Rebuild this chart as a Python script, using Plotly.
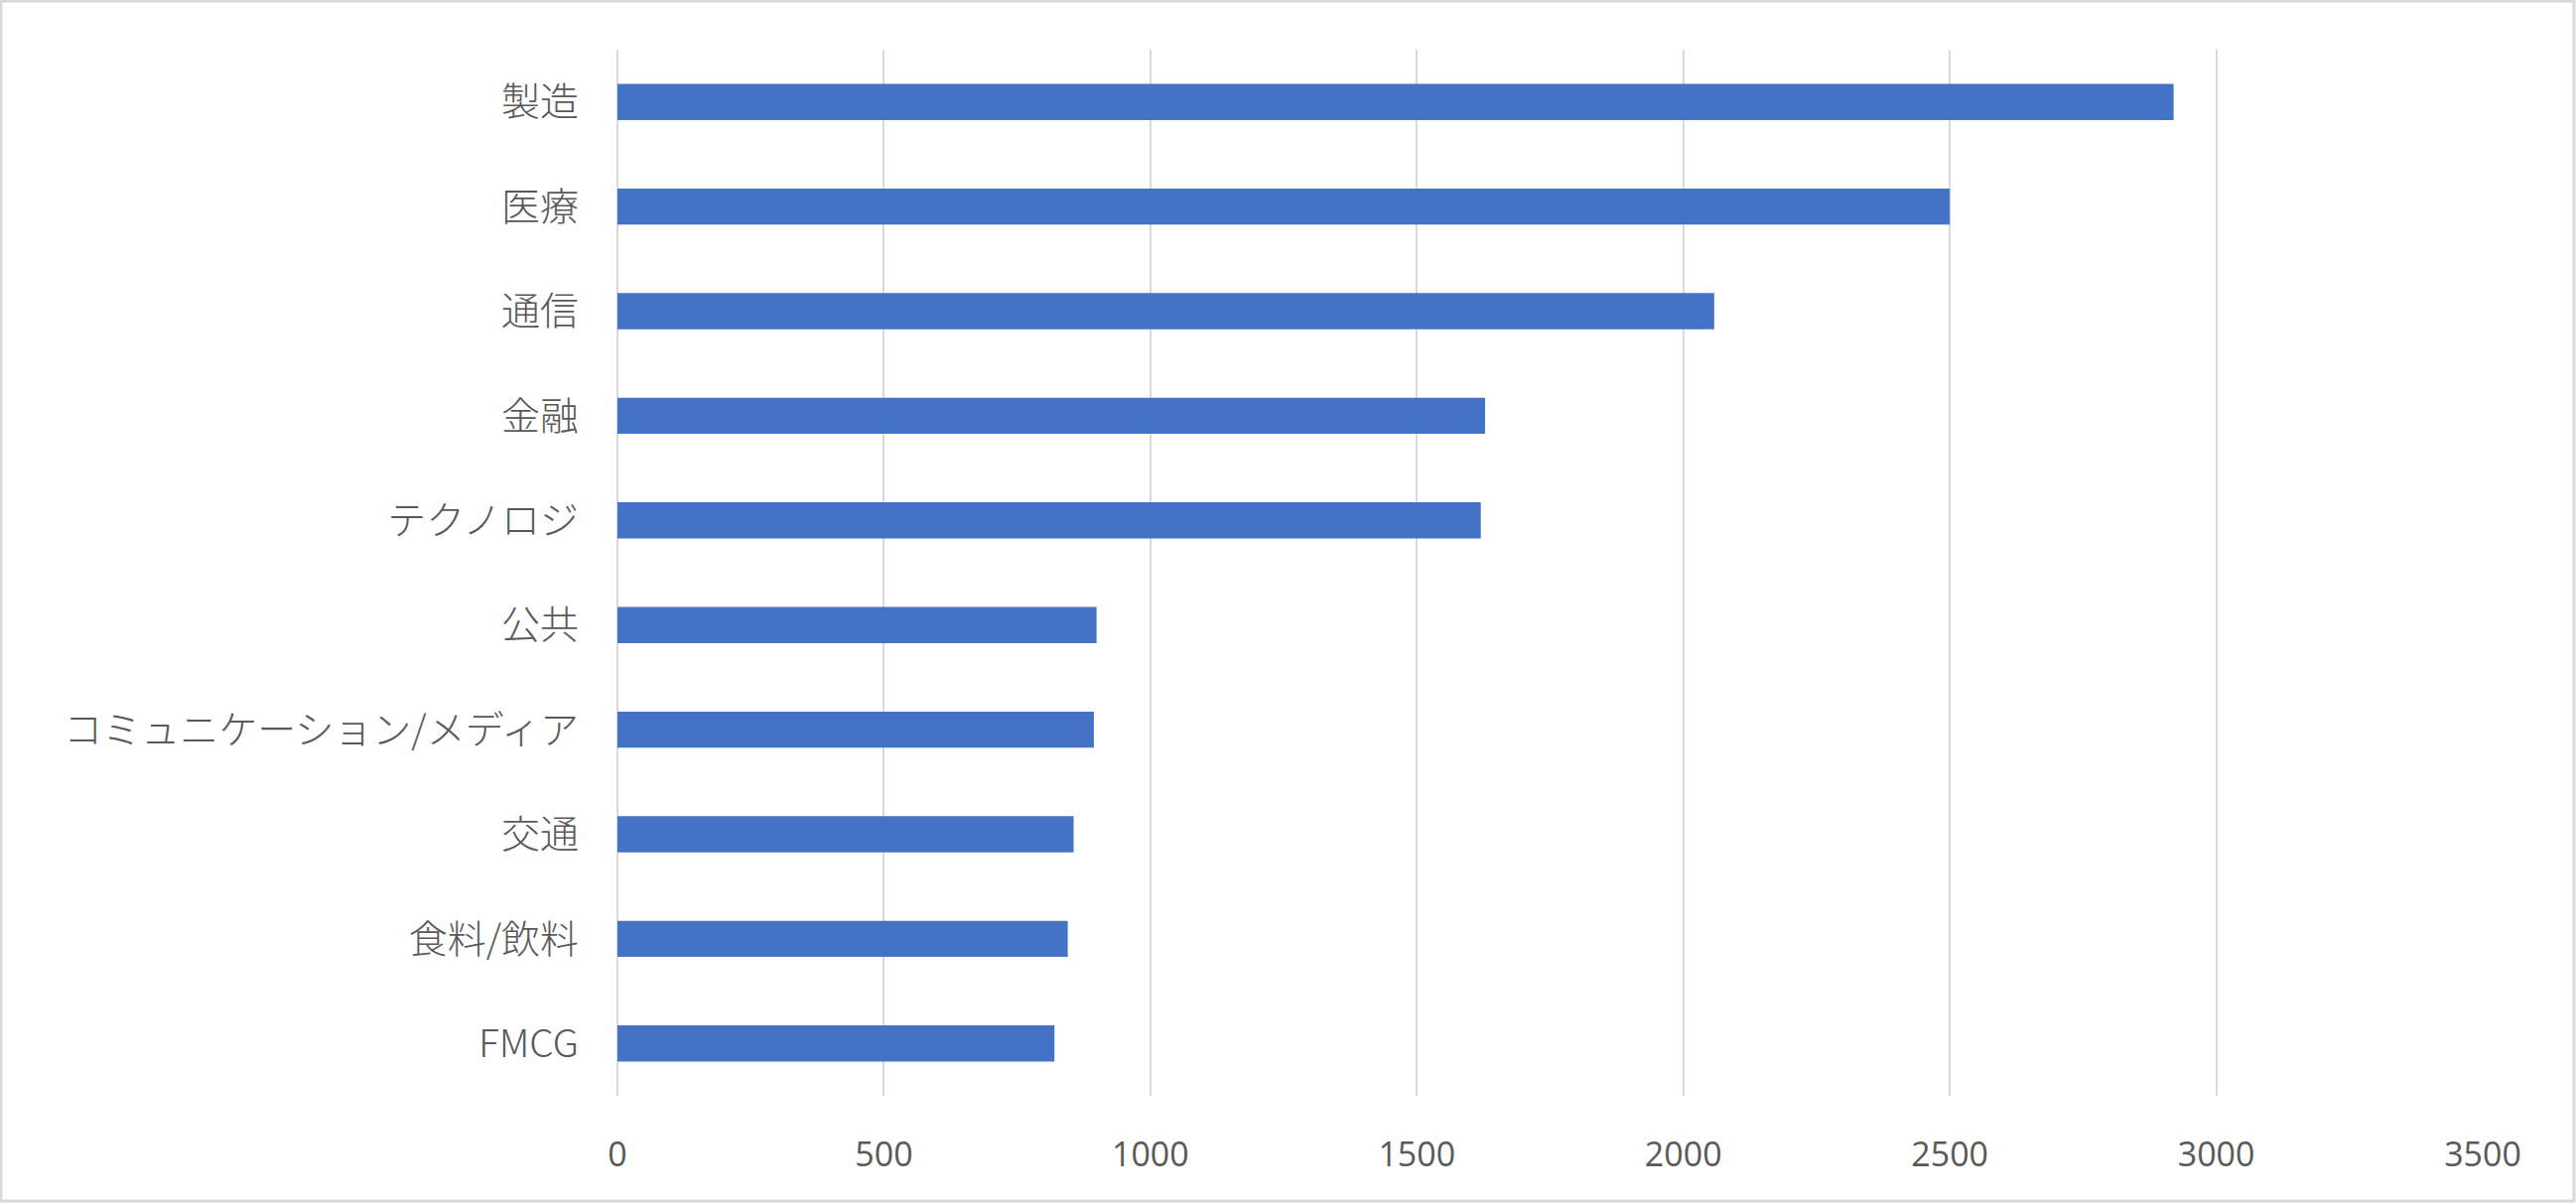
import plotly.graph_objects as go

# industries, top to bottom as in the chart
industries = ["製造", "医療", "通信", "金融", "テクノロジ", "公共",
              "コミュニケーション/メディア", "交通", "食料/飲料", "FMCG"]
counts = [2920, 2500, 2058, 1628, 1620, 899, 894, 856, 845, 820]
x_ticks = [0, 500, 1000, 1500, 2000, 2500, 3000, 3500]

W, H = 2595, 1212
ML, MR, MT, MB = 622, 94, 50, 108

fig = go.Figure(go.Bar(
    x=counts,
    y=industries,
    orientation="h",
    marker=dict(color="#4472C4", line_width=0),
    width=0.345,
))

pw = W - ML - MR
ph = H - MT - MB

fig.update_layout(
    width=W, height=H,
    margin=dict(l=ML, r=MR, t=MT, b=MB),
    paper_bgcolor="white",
    plot_bgcolor="white",
    showlegend=False,
    xaxis=dict(
        range=[0, 3500],
        tickvals=x_ticks,
        showgrid=True, gridcolor="#d9d9d9", gridwidth=2,
        zeroline=True, zerolinecolor="#d9d9d9", zerolinewidth=2,
        showline=False,
        ticks="",
        ticklabelstandoff=36,
        tickfont=dict(family="Open Sans", size=34, color="#595959"),
    ),
    yaxis=dict(
        autorange="reversed",
        showgrid=False, zeroline=False, showline=False,
        ticks="",
        ticklabelstandoff=38,
        tickfont=dict(family="Noto Sans CJK JP", size=39, color="#595959",
                      weight=300),
    ),
    # light frame round the whole chart
    shapes=[dict(
        type="rect", xref="paper", yref="paper",
        x0=-(ML - 1) / pw, x1=1 + (MR - 2) / pw,
        y0=-(MB - 2) / ph, y1=1 + (MT - 1) / ph,
        line=dict(color="#d9d9d9", width=3),
        fillcolor="rgba(0,0,0,0)",
    )],
)

# drop the page margin so the chart sits at the window's corner
fig.write_html("out.html", config={"displayModeBar": False},
               post_script="document.body.style.margin='0';")
